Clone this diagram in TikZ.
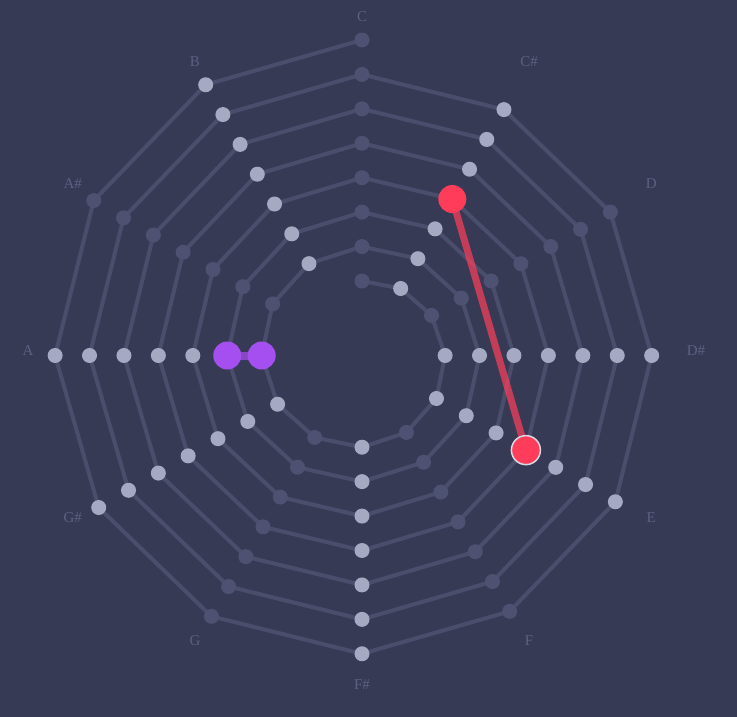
\documentclass[tikz,border=0pt]{standalone}
\usepackage{fontspec}
\setmainfont{Liberation Serif}
\definecolor{bgc}{HTML}{363A55}
\definecolor{linec}{HTML}{4A4E6C}
\definecolor{darkdot}{HTML}{4E5272}
\definecolor{lightdot}{HTML}{A6A9C2}
\definecolor{labc}{HTML}{5C6183}
\definecolor{hred}{HTML}{FF3D5A}
\definecolor{hpurple}{HTML}{A64FF0}
\definecolor{selring}{HTML}{D8D9E2}
\pgfdeclarelayer{bglayer}
\pgfdeclarelayer{hlline}
\pgfdeclarelayer{toplayer}
\pgfsetlayers{bglayer,main,hlline,toplayer}
\begin{document}
\begin{tikzpicture}[x=1pt,y=-1pt,
  dot/.style={circle,inner sep=0pt,minimum size=15pt,draw=none},
  spiral/.style={draw=linec,line width=4pt,line cap=round,line join=round},
  lab/.style={text=labc,font=\fontsize{15}{18}\selectfont,inner sep=0pt},
  redline/.style={draw=hred,draw opacity=0.7,line width=7pt},
  purpleline/.style={draw=hpurple,draw opacity=0.7,line width=8pt},
  reddot/.style={circle,inner sep=0pt,minimum size=28pt,fill=hred},
  reddotsel/.style={circle,inner sep=0pt,minimum size=29pt,fill=hred,draw=selring,line width=1.5pt},
  purpledot/.style={circle,inner sep=0pt,minimum size=28pt,fill=hpurple}]
\begin{pgfonlayer}{bglayer}
\fill[bgc] (0,0) rectangle (737,717);
\end{pgfonlayer}
\useasboundingbox (0,0) rectangle (737,717);
% spiral dots
\foreach \n in {0,...,84}{
  \pgfmathtruncatemacro\k{mod(\n,12)}
  \pgfmathsetmacro\r{74.5+2.869*\n}
  \pgfmathsetmacro\px{362+\r*sin(30*\k)}
  \pgfmathsetmacro\py{355.5-\r*cos(30*\k)}
  \pgfmathtruncatemacro\isdark{(\k==0)||(\k==2)||(\k==5)||(\k==7)||(\k==10)}
  \ifnum\isdark=1 \def\dc{darkdot}\else\def\dc{lightdot}\fi
  \node[dot,fill=\dc] (p\n) at (\px,\py) {};
}
% spiral line
\begin{pgfonlayer}{bglayer}
\foreach \n [evaluate=\n as \m using int(\n+1)] in {0,...,83}{
  \draw[spiral] (p\n.center) -- (p\m.center);
}
\end{pgfonlayer}
% labels
\foreach \nm [count=\i from 0] in {C,C\#,D,D\#,E,F,F\#,G,G\#,A,A\#,B}{
  \node[lab] (l\i) at ({362+334*sin(30*\i)},{351-334*cos(30*\i)}) {\nm};
}
% highlights
\begin{pgfonlayer}{toplayer}
\node[reddot] (h1) at (p37) {};
\node[reddotsel] (h2) at (p40) {};
\node[purpledot] (h3) at (p9) {};
\node[purpledot] (h4) at (p21) {};
\end{pgfonlayer}
\begin{pgfonlayer}{hlline}
\draw[redline] (h1.center) -- (h2.center);
\draw[purpleline] (h3.center) -- (h4.center);
\end{pgfonlayer}
\end{tikzpicture}
\end{document}
